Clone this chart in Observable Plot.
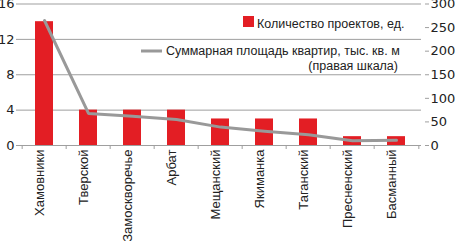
<!DOCTYPE html>
<html>
<head>
<meta charset="utf-8">
<script src="https://cdn.jsdelivr.net/npm/d3@7"></script>
<script src="https://cdn.jsdelivr.net/npm/@observablehq/plot@0.6"></script>
<style>
  html, body { margin: 0; padding: 0; background: #fff; }
  #chart { width: 455px; height: 241px; overflow: hidden; }
</style>
</head>
<body>
<div id="chart"></div>
<script>
const categories = ["Хамовники","Тверской","Замоскворечье","Арбат","Мещанский","Якиманка","Таганский","Пресненский","Басманный"];
const projects = [14, 4, 4, 4, 3, 3, 3, 1, 1];
const area = [265, 68, 62, 55, 39, 30, 23, 10, 11];
const leftTicks = [0, 4, 8, 12, 16];
const rightTicks = [0, 50, 100, 150, 200, 250, 300];
const leftMax = 16, rightMax = 300;
const legendBars = "Количество проектов, ед.";
const legendLine1 = "Суммарная площадь квартир, тыс. кв. м";
const legendLine2 = "(правая шкала)";

const RED = "#e31e24", LINE = "#999999", GRID = "#9f9f9f", TEXT = "#222";
const W = 455, H = 241, mL = 19, mR = 34, mT = 3.5, mB = 96;
const half = (W - mL - mR) / categories.length / 2;

const data = categories.map((c, i) => ({cat: c, projects: projects[i], area: area[i]}));
const toLeft = v => v * leftMax / rightMax;
const numFont = "DejaVu Sans, sans-serif";

const chart = Plot.plot({
  width: W, height: H,
  marginLeft: mL, marginRight: mR, marginTop: mT, marginBottom: mB,
  style: {fontFamily: "Liberation Sans, Arial, sans-serif", fontSize: "13px", background: "white", color: TEXT},
  x: {domain: categories, paddingInner: 0.6, paddingOuter: 0.3, label: null},
  y: {domain: [0, leftMax], label: null},
  marks: [
    Plot.gridY(leftTicks, {stroke: GRID, strokeOpacity: 1}),
    Plot.ruleY([0], {stroke: GRID}),
    Plot.barY(data, {x: "cat", y: "projects", fill: RED}),
    Plot.line(data, {x: "cat", y: d => toLeft(d.area), stroke: LINE, strokeWidth: 3}),
    Plot.axisY(leftTicks, {anchor: "left", tickSize: 3, tickPadding: 2, stroke: GRID, fontFamily: numFont, fontSize: 13, fill: TEXT, label: null}),
    Plot.axisY(rightTicks.map(toLeft), {anchor: "right", tickSize: 4, tickPadding: 2, dx: 3, stroke: GRID, fontFamily: numFont, fontSize: 13, fill: TEXT, label: null,
      tickFormat: d => String(Math.round(d * rightMax / leftMax))}),
    Plot.axisX(categories, {tickSize: 4, dx: -half, stroke: GRID, tickFormat: () => "", label: null}),
    Plot.axisX([categories[categories.length - 1]], {tickSize: 4, dx: half, stroke: GRID, tickFormat: () => "", label: null}),
    Plot.axisX(categories, {tickSize: 0, tickPadding: 4, tickRotate: -90, fontSize: 13, fill: TEXT, dx: -5, label: null})
  ]
});
document.getElementById("chart").appendChild(chart);

// legend inside plot area
const svg = d3.select(chart);
const lg = svg.append("g").attr("font-family", "Liberation Sans, Arial, sans-serif").attr("font-size", 12.5).attr("fill", TEXT).attr("text-anchor", "start");
lg.append("rect").attr("x", 243).attr("y", 16).attr("width", 11).attr("height", 11).attr("fill", RED);
lg.append("text").attr("x", 257).attr("y", 27.5).attr("text-anchor", "start").text(legendBars);
lg.append("line").attr("x1", 141).attr("x2", 162).attr("y1", 51).attr("y2", 51).attr("stroke", LINE).attr("stroke-width", 3);
lg.append("text").attr("x", 166).attr("y", 55).attr("text-anchor", "start").text(legendLine1);
lg.append("text").attr("x", 398).attr("y", 70).attr("text-anchor", "end").text(legendLine2);
</script>
</body>
</html>
